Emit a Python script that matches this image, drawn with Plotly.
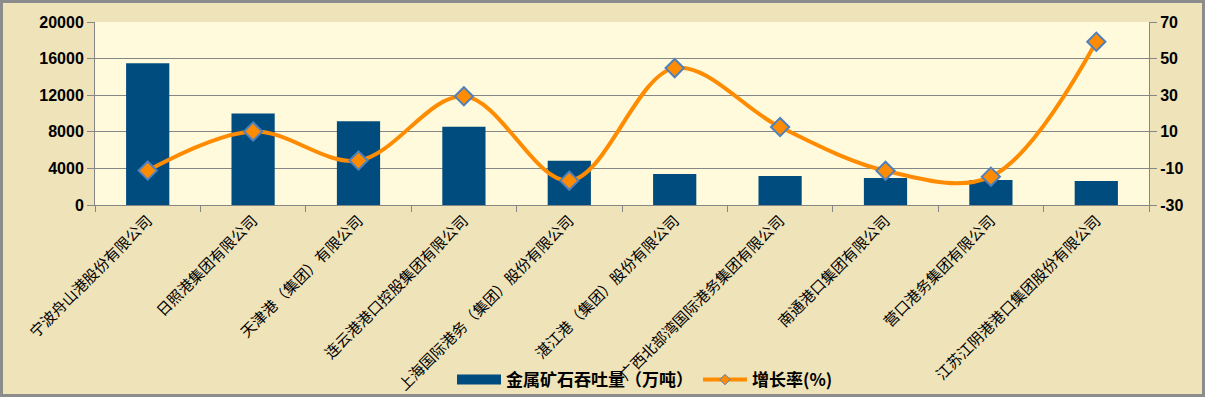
import plotly.graph_objects as go

categories = ["宁波舟山港股份有限公司", "日照港集团有限公司", "天津港（集团）有限公司",
              "连云港港口控股集团有限公司", "上海国际港务（集团）股份有限公司",
              "湛江港（集团）股份有限公司", "广西北部湾国际港务集团有限公司",
              "南通港口集团有限公司", "营口港务集团有限公司", "江苏江阴港港口集团股份有限公司"]
throughput = [15500, 10000, 9140, 8560, 4830, 3400, 3180, 2960, 2740, 2630]
growth = [-11.2, 10.2, -5.7, 29.4, -16.7, 44.8, 12.6, -11.3, -14.5, 59.2]
left_ticks = [0, 4000, 8000, 12000, 16000, 20000]
right_ticks = [-30, -10, 10, 30, 50, 70]

bar_name = "金属矿石吞吐量（万吨）"
line_name = "增长率(%)"
bar_color = "#004C7E"
line_color = "#FF8C00"

fig = go.Figure()
fig.add_trace(go.Bar(x=categories, y=throughput, name=bar_name, showlegend=False,
                     marker=dict(color=bar_color, line=dict(width=0))))
fig.add_trace(go.Scatter(x=categories, y=growth, name=line_name, yaxis="y2",
                         mode="lines+markers", showlegend=False,
                         line=dict(color=line_color, width=4, shape="spline", smoothing=1.0),
                         marker=dict(symbol="diamond", size=14, color=line_color,
                                     line=dict(color="#4F81BD", width=2))))
# legend entries
fig.add_trace(go.Scatter(x=[None], y=[None], name=bar_name, mode="lines",
                         line=dict(color=bar_color, width=10)))
fig.add_trace(go.Scatter(x=[None], y=[None], name=line_name, mode="lines+markers", yaxis="y2",
                         line=dict(color=line_color, width=4),
                         marker=dict(symbol="diamond", size=8, color=line_color,
                                     line=dict(color="#4F81BD", width=1))))

grid = "#868686"
tickfont = dict(size=16, family="Arial, Liberation Sans", color="#000000", weight="bold")
W, H = 1205, 397
ml, mr, mt, mb = 95, 56, 22, 192
pw, ph = W - ml - mr, H - mt - mb
fig.update_layout(
    width=W, height=H,
    margin=dict(l=ml, r=mr, t=mt, b=mb, autoexpand=False),
    paper_bgcolor="#EEE3B9",
    plot_bgcolor="#FFFADC",
    bargap=0.59,
    font=dict(family="Noto Sans CJK SC, Arial", color="#000000"),
    showlegend=True,
    legend=dict(orientation="h", x=(645 - ml) / pw, xanchor="center",
                y=-(380 - (H - mb)) / ph, yanchor="middle",
                font=dict(size=17, family="Noto Sans CJK SC, Arial", weight="bold"),
                bgcolor="rgba(0,0,0,0)", itemwidth=44, traceorder="normal"),
    xaxis=dict(range=[-0.5, len(categories) - 0.5], autorange=False,
               tickangle=-45, tickfont=dict(size=15, family="Noto Sans CJK SC"),
               showline=True, linecolor=grid, linewidth=1, automargin=False,
               ticks="outside", ticklen=6, tickcolor=grid, tickson="boundaries",
               showgrid=False),
    yaxis=dict(range=[0, 20000], tickmode="array", tickvals=left_ticks,
               ticktext=[str(v) for v in left_ticks],
               showgrid=True, gridcolor=grid, gridwidth=1, automargin=False,
               showline=True, linecolor=grid, ticks="outside", ticklen=7, tickcolor=grid,
               tickfont=tickfont, zeroline=False),
    yaxis2=dict(range=[-30, 70], tickmode="array", tickvals=right_ticks,
                ticktext=[str(v) for v in right_ticks],
                overlaying="y", side="right", showgrid=False, automargin=False,
                showline=True, linecolor=grid, ticks="outside", ticklen=7, tickcolor=grid,
                tickfont=tickfont, zeroline=False),
)
fig.add_shape(type="rect", xref="paper", yref="paper",
              x0=-(ml - 1.5) / pw, x1=1 + (mr - 1.5) / pw,
              y0=-(mb - 1.5) / ph, y1=1 + (mt - 1.5) / ph,
              line=dict(color="#8C8C8C", width=3),
              fillcolor="rgba(0,0,0,0)", layer="above")
fig.write_html("out.html", config={"displayModeBar": False},
               post_script="document.body.style.margin='0';document.body.style.overflow='hidden';")
